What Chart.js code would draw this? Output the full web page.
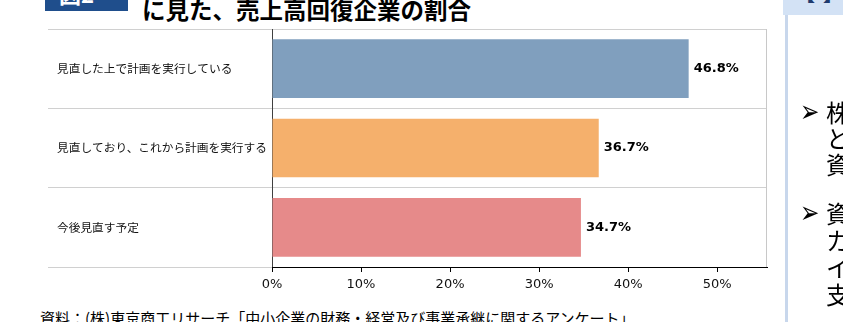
<!DOCTYPE html>
<html lang="ja">
<head>
<meta charset="utf-8">
<script src="https://cdn.jsdelivr.net/npm/chart.js@4.4.1/dist/chart.umd.min.js"></script>
<style>
  html, body { margin:0; padding:0; background:#fff; width:843px; height:322px; overflow:hidden; position:relative; font-family:"Noto Sans CJK JP", sans-serif; }
  .abs { position:absolute; white-space:nowrap; }
  #figbox { left:45px; top:0; width:83px; height:11px; background:#1F4E8C; overflow:hidden; }
  #figbox span { position:absolute; left:14px; top:-18px; font-size:22px; line-height:22px; font-weight:bold; color:#fff; }
  #title { left:142px; top:-2px; font-size:23.5px; line-height:23.5px; font-weight:bold; color:#000; }
  #chartWrap { left:48px; top:19px; width:740px; height:278px; }
  #source { left:40px; top:310px; font-size:15px; line-height:15px; color:#000; }
  #panelHead { left:783px; top:0; width:60px; height:15px; background:#D3E2F5; overflow:hidden; }
  #panelHead span { position:absolute; left:12px; top:-17px; font-size:20px; line-height:20px; font-weight:bold; color:#1F3B6E; letter-spacing:8px; }
  #panelLine { left:785px; top:15px; width:3px; height:307px; background:#C8D7EC; }
  .bul { position:absolute; left:800px; font-size:22px; line-height:22px; font-family:"DejaVu Sans", sans-serif; color:#000; transform:scale(1.05, 1.4); transform-origin:left center; }
  .ptxt { position:absolute; left:826px; font-size:24px; line-height:24px; color:#000; }
</style>
</head>
<body>
<div id="figbox" class="abs"><span>図2</span></div>
<div id="title" class="abs">に見た、売上高回復企業の割合</div>
<div id="chartWrap" class="abs"><canvas id="c"></canvas></div>
<div id="source" class="abs">資料：(株)東京商工リサーチ「中小企業の財務・経営及び事業承継に関するアンケート」</div>
<div id="panelHead" class="abs"><span>【】</span></div>
<div id="panelLine" class="abs"></div>
<div class="bul" style="top:101px">➢</div>
<div class="ptxt" style="top:100px">株</div>
<div class="ptxt" style="top:126px">と</div>
<div class="ptxt" style="top:152px">資</div>
<div class="bul" style="top:202px">➢</div>
<div class="ptxt" style="top:201px">資</div>
<div class="ptxt" style="top:228px">カ</div>
<div class="ptxt" style="top:255px">イ</div>
<div class="ptxt" style="top:282px">支</div>
<script>
const categories = ['見直した上で計画を実行している', '見直しており、これから計画を実行する', '今後見直す予定'];
const values = [46.8, 36.7, 34.7];
const tickValues = [0, 10, 20, 30, 40, 50];
const axisMax = 55.6;

const barColors = ['#809FBE', '#F5B06C', '#E68A8A'];

const valueLabels = {
  id: 'valueLabels',
  afterDatasetsDraw(chart) {
    const ctx = chart.ctx;
    const meta = chart.getDatasetMeta(0);
    ctx.save();
    ctx.font = 'bold 13px "DejaVu Sans", sans-serif';
    ctx.fillStyle = '#000';
    ctx.textAlign = 'left';
    ctx.textBaseline = 'middle';
    meta.data.forEach((bar, i) => {
      ctx.fillText(values[i].toFixed(1) + '%', bar.x + 5, bar.y);
    });
    ctx.restore();
  }
};

const rightBorder = {
  id: 'rightBorder',
  beforeDatasetsDraw(chart) {
    const a = chart.chartArea, ctx = chart.ctx;
    ctx.save();
    ctx.strokeStyle = '#C8C8C8';
    ctx.lineWidth = 1;
    ctx.beginPath();
    ctx.moveTo(Math.round(a.right) - 0.5, a.top);
    ctx.lineTo(Math.round(a.right) - 0.5, a.bottom);
    ctx.stroke();
    ctx.restore();
  }
};

new Chart(document.getElementById('c'), {
  type: 'bar',
  data: {
    labels: categories,
    datasets: [{
      data: values,
      backgroundColor: barColors,
      borderWidth: 0,
      categoryPercentage: 1,
      barPercentage: 0.74
    }]
  },
  options: {
    indexAxis: 'y',
    responsive: true,
    maintainAspectRatio: false,
    animation: false,
    layout: { padding: { left: 9, right: 21, top: 0, bottom: 0 } },
    plugins: { legend: { display: false }, tooltip: { enabled: false } },
    scales: {
      y: {
        afterFit(scale) { scale.width = 215; },
        grid: { offset: true, color: '#D0D0D0', lineWidth: 1, drawTicks: true, tickLength: 224 },
        border: { display: true, color: '#404040', width: 1 },
        ticks: {
          crossAlign: 'far',
          color: '#111',
          font: { family: '"Noto Sans CJK JP", sans-serif', size: 11.7 }
        }
      },
      x: {
        min: 0,
        max: axisMax,
        afterFit(scale) { scale.height = 30; },
        afterBuildTicks(scale) { scale.ticks = tickValues.map(v => ({ value: v })); },
        grid: { drawOnChartArea: false, drawTicks: true, tickLength: 5, color: '#000' },
        border: { display: true, color: '#000', width: 1 },
        ticks: {
          padding: 5,
          color: '#111',
          maxRotation: 0,
          font: { family: '"DejaVu Sans", sans-serif', size: 13 },
          callback: v => v + '%'
        }
      }
    }
  },
  plugins: [valueLabels, rightBorder]
});
</script>
</body>
</html>
